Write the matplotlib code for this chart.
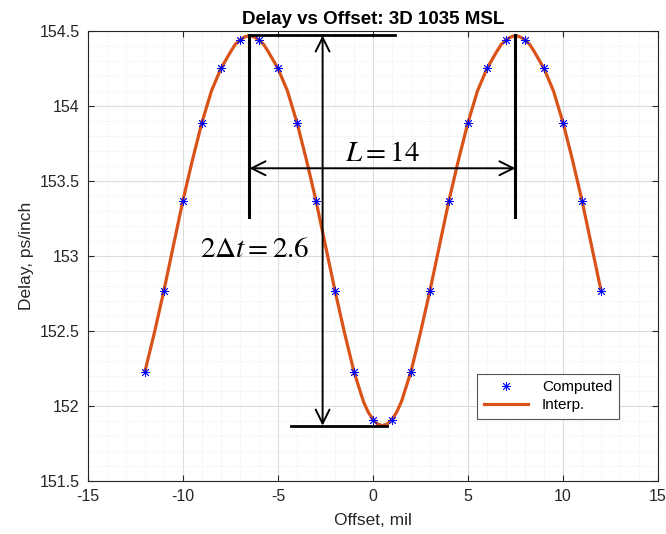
"""
Delay vs Offset plot (3D 1035 MSL) - computed points + interpolated curve
"""
import matplotlib
matplotlib.use("Agg")
import matplotlib.pyplot as plt
from matplotlib.ticker import MultipleLocator

plt.rcParams['font.family'] = ['Liberation Sans', 'DejaVu Sans']
plt.rcParams['mathtext.fontset'] = 'stix'
plt.rcParams['axes.unicode_minus'] = False

# =========================================================
# DATA
# =========================================================
offset_computed = [-12, -11, -10, -9, -8, -7, -6, -5, -4, -3, -2, -1,
                   0, 1, 2, 3, 4, 5, 6, 7, 8, 9, 10, 11, 12]
delay_computed = [152.23, 152.77, 153.37, 153.89, 154.25, 154.44, 154.44,
                  154.25, 153.89, 153.37, 152.77, 152.23, 151.91, 151.91,
                  152.23, 152.77, 153.37, 153.89, 154.25, 154.44, 154.44,
                  154.25, 153.89, 153.37, 152.77]

# interpolated curve (denser near the extremes)
offset_interp = [-12, -11.5, -11, -10.5, -10, -9.5, -9, -8.5, -8, -7.5, -7.25,
                 -7, -6.75, -6.5, -6.25, -6, -5.75, -5.5, -5, -4.5, -4, -3.5,
                 -3, -2.5, -2, -1.5, -1, -0.5, -0.25, 0, 0.25, 0.5, 0.75, 1,
                 1.25, 1.5, 2, 2.5, 3, 3.5, 4, 4.5, 5, 5.5, 6, 6.5, 6.75, 7,
                 7.25, 7.5, 7.75, 8, 8.25, 8.5, 9, 9.5, 10, 10.5, 11, 11.5, 12]
delay_interp = [152.23, 152.49, 152.77, 153.07, 153.37, 153.64, 153.89, 154.10,
                154.25, 154.36, 154.41, 154.44, 154.46, 154.47, 154.46, 154.44,
                154.41, 154.36, 154.25, 154.10, 153.89, 153.64, 153.37, 153.07,
                152.77, 152.49, 152.23, 152.03, 151.96, 151.91, 151.88, 151.87,
                151.88, 151.91, 151.96, 152.03, 152.23, 152.49, 152.77, 153.07,
                153.37, 153.64, 153.89, 154.10, 154.25, 154.36, 154.41, 154.44,
                154.46, 154.47, 154.46, 154.44, 154.41, 154.36, 154.25, 154.10,
                153.89, 153.64, 153.37, 153.07, 152.77]

# annotation values
peak_left, peak_right = -6.5, 7.5
delay_max, delay_min = 154.47, 151.87

# =========================================================
# PLOT
# =========================================================
fig = plt.figure(figsize=(6.66, 5.34), dpi=100)
ax = fig.add_axes([0.132, 0.099, 0.856, 0.843])

ax.plot(offset_computed, delay_computed, linestyle='none', marker=(8, 2, 0),
        color='blue', markersize=6.5, markeredgewidth=0.6, label='Computed',
        zorder=4)
ax.plot(offset_interp, delay_interp, '-', color='#D95319', linewidth=2.3,
        label='Interp.', zorder=3)

# vertical markers at the peaks
for xp in (peak_left, peak_right):
    ax.plot([xp, xp], [delay_max, 153.26], color='black', linewidth=2.2, zorder=5)

# horizontal reference lines at max and min
ax.plot([peak_left, 1.15], [delay_max, delay_max], color='black', linewidth=2, zorder=5)
ax.plot([-4.3, 0.75], [delay_min, delay_min], color='black', linewidth=2, zorder=5)

arrow = dict(arrowstyle='<->,head_length=10,head_width=5', color='black',
             linewidth=1.4, mutation_scale=1, shrinkA=0, shrinkB=0)
ax.annotate('', xy=(peak_left, 153.585), xytext=(peak_right, 153.585),
            arrowprops=arrow, zorder=5)
ax.annotate('', xy=(-2.65, delay_max), xytext=(-2.65, delay_min),
            arrowprops=arrow, zorder=5)

ax.text(0.5, 153.69, r'$L = 14$', fontsize=21, ha='center', va='center')
ax.text(-9.1, 153.05, r'$2\Delta t = 2.6$', fontsize=21, ha='left', va='center')

# axes styling (MATLAB-like)
ax.set_xlim(-15, 15)
ax.set_ylim(151.5, 154.5)
ax.xaxis.set_major_locator(MultipleLocator(5))
ax.xaxis.set_minor_locator(MultipleLocator(1))
ax.yaxis.set_minor_locator(MultipleLocator(0.1))
ax.set_yticks([151.5, 152, 152.5, 153, 153.5, 154, 154.5])
ax.set_yticklabels(['151.5', '152', '152.5', '153', '153.5', '154', '154.5'])

ax.grid(True, which='major', color='#dcdcdc', linewidth=0.8)
ax.grid(True, which='minor', color='#e8e8e8', linewidth=0.6, linestyle=':')
ax.set_axisbelow(True)
ax.tick_params(which='both', direction='in', top=True, right=True,
               color='#262626', labelsize=11.5, labelcolor='#262626')
ax.tick_params(which='major', length=4, pad=6)
ax.tick_params(which='minor', length=0)
for sp in ax.spines.values():
    sp.set_color('#262626')
    sp.set_linewidth(0.8)

ax.set_xlabel('Offset, mil', fontsize=12.5, color='#262626', labelpad=6)
ax.set_ylabel('Delay, ps/inch', fontsize=12.5, color='#262626', labelpad=4)
ax.set_title('Delay vs Offset: 3D 1035 MSL', fontsize=13.5, fontweight='bold',
             pad=5)

leg = ax.legend(loc='lower right', bbox_to_anchor=(0.9316, 0.1378),
                borderaxespad=0, fontsize=11, fancybox=False, framealpha=1,
                edgecolor='#555555', borderpad=0.45, handlelength=2.9,
                handletextpad=0.9, labelspacing=0.25)
leg.get_frame().set_linewidth(0.8)

plt.savefig('out.png', dpi=100)
